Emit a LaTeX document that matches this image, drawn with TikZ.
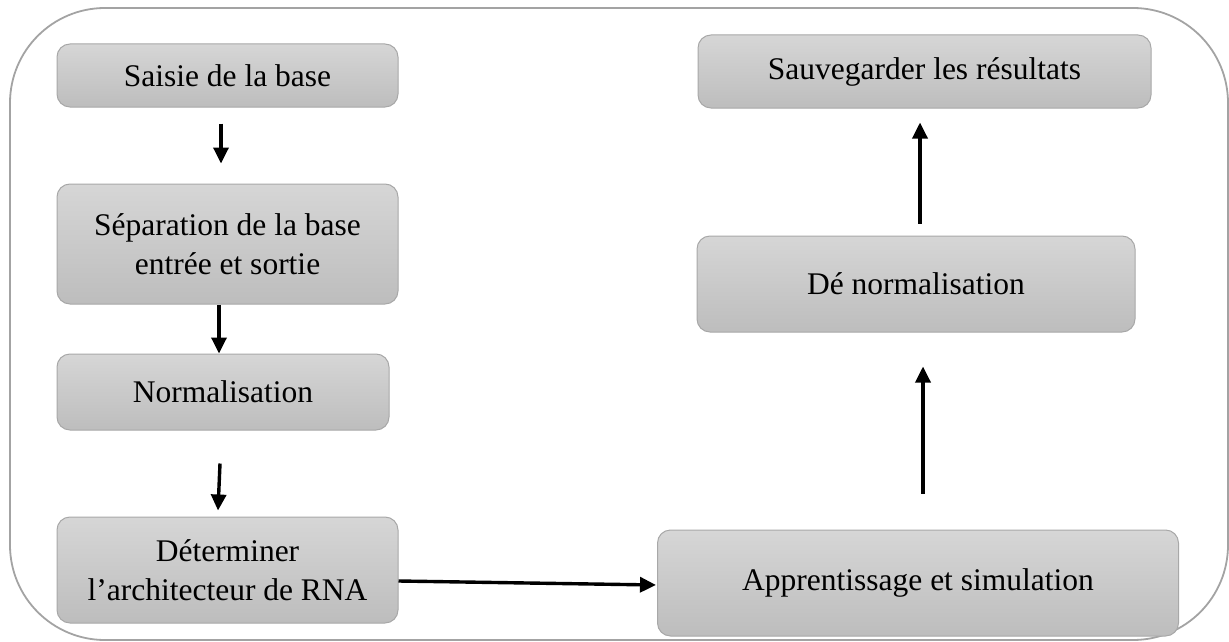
\documentclass[tikz,border=0pt]{standalone}
\usepackage{fontspec}
\setmainfont{Liberation Serif}
\usetikzlibrary{arrows.meta,calc}
\definecolor{framegray}{HTML}{A3A3A3}
\definecolor{boxline}{HTML}{A8A8A8}
\definecolor{boxtop}{HTML}{D6D6D6}
\definecolor{boxbot}{HTML}{BDBDBD}
\begin{document}
\begin{tikzpicture}[x=1pt,y=-1pt,
  framebox/.style={draw=framegray,line width=1.8pt,rounded corners=95pt},
  stepbox/.style={draw=boxline,line width=1pt,rounded corners=13pt,
    top color=boxtop,bottom color=boxbot,align=center,inner sep=0pt,
    font=\fontsize{31.5}{39}\selectfont},
  flow/.style={line width=3.4pt,-{Triangle[length=16pt,width=15pt]}}]
\useasboundingbox (0,0) rectangle (1229,642);

% outer frame
\draw[framebox] (10,8) rectangle (1228,640);

% left column
\node[stepbox,minimum width=341pt,minimum height=63pt]  (saisie) at (227.5,75.5) {Saisie de la base};
\node[stepbox,minimum width=341pt,minimum height=120pt] (separ)  at (227.5,244)  {Séparation de la base\\entrée et sortie};
\node[stepbox,minimum width=332pt,minimum height=76pt]  (norm)   at (223,392)    {Normalisation};
\node[stepbox,minimum width=341pt,minimum height=106pt] (archi)  at (227.5,570)  {Déterminer\\l’architecteur de RNA};

% right column
\node[stepbox,minimum width=521pt,minimum height=106pt] (appr)   at (918,583)    {Apprentissage et simulation};
\node[stepbox,minimum width=438pt,minimum height=96pt]  (denorm) at (916,284)    {Dé normalisation};
\node[stepbox,minimum width=453pt,minimum height=73pt]  (sauv)   at (924.5,71.5) {Sauvegarder les résultats};

% connectors
\draw[flow] ($(saisie.south)+(-6.5,16)$) -- ($(separ.north)+(-6.5,-20)$);
\draw[flow] ($(separ.south)+(-8.5,0)$) -- ($(norm.north)+(-4,0)$);
\draw[flow] ($(norm.south)+(-3,33)$) -- ($(archi.north)+(-9.5,-6)$);
\draw[flow] ($(archi.east)+(0,11)$) -- ($(appr.west)+(-1,2)$);
\draw[flow] ($(appr.north)+(5,-36)$) -- ($(denorm.south)+(7,34)$);
\draw[flow] ($(denorm.north)+(4,-12)$) -- ($(sauv.south)+(-4.5,14)$);
\end{tikzpicture}
\end{document}
